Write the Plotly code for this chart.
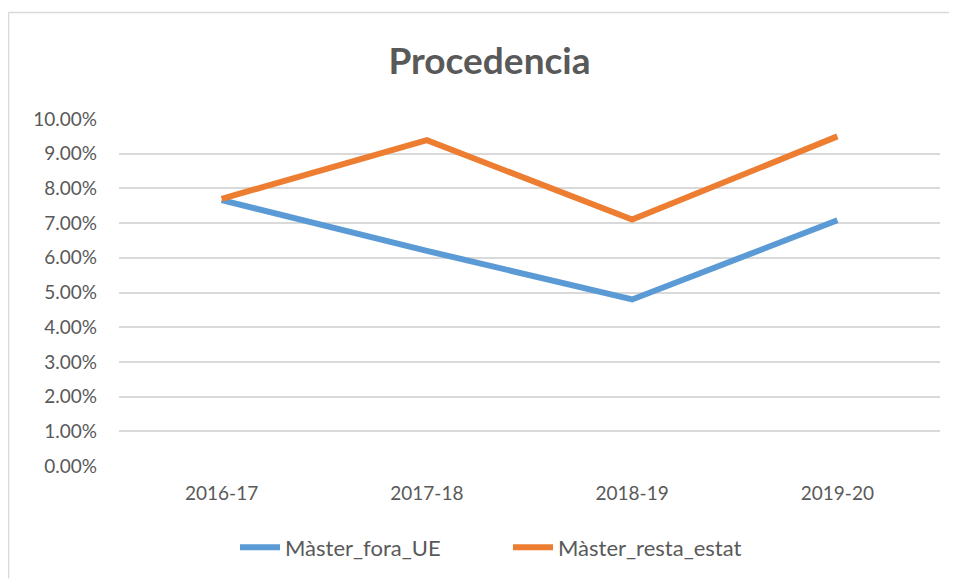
import plotly.graph_objects as go

categories = ["2016-17", "2017-18", "2018-19", "2019-20"]
fora_ue = [0.0766, 0.0620, 0.0480, 0.0708]
resta_estat = [0.0770, 0.0939, 0.0710, 0.0950]
y_ticks = [i / 100 for i in range(0, 11)]

FONT = "Lato, 'Open Sans', sans-serif"
GRAY = "#595959"

# figure sits at (8, 8) in the page because of the body margin
W, H = 949, 573
L, R, T, B = 111, 17, 111, 113
PW, PH = W - L - R, H - T - B

fig = go.Figure()
fig.add_trace(go.Scatter(x=categories, y=fora_ue, name="Màster_fora_UE", mode="lines",
                         line=dict(color="#5b9bd5", width=6)))
fig.add_trace(go.Scatter(x=categories, y=resta_estat, name="Màster_resta_estat", mode="lines",
                         line=dict(color="#ed7d31", width=6)))

fig.update_layout(
    width=W, height=H,
    paper_bgcolor="white", plot_bgcolor="white",
    margin=dict(l=L, r=R, t=T, b=B),
    title=dict(text="<b>Procedencia</b>", x=481.5 / W, xanchor="center", y=1 - 53 / H, yanchor="middle",
               font=dict(family=FONT, size=37, color=GRAY)),
    font=dict(family=FONT, size=19, color=GRAY),
    xaxis=dict(type="category", range=[-0.5, 3.5], showgrid=False, showline=False, zeroline=False,
               ticks="", ticklabelstandoff=14, tickfont=dict(size=19, color=GRAY)),
    yaxis=dict(range=[0, 0.10], tickvals=y_ticks, tickformat=".2%", showgrid=True,
               gridcolor="#d9d9d9", gridwidth=1.5, zeroline=False, showline=False,
               ticks="", ticklabelstandoff=21, tickfont=dict(size=19, color=GRAY)),
    legend=dict(orientation="h", x=(500 - L) / PW, xanchor="center", y=-0.235, yanchor="middle",
                font=dict(size=22, color=GRAY), itemwidth=40, entrywidth=218,
                bgcolor="rgba(0,0,0,0)"),
    showlegend=True,
    shapes=[
        dict(type="line", xref="paper", yref="paper",
             x0=-(L - 0.5) / PW, x1=1 + R / PW, y0=1 + (T - 4) / PH, y1=1 + (T - 4) / PH,
             line=dict(color="#d9d9d9", width=1.5)),
        dict(type="line", xref="paper", yref="paper",
             x0=-(L - 0.5) / PW, x1=-(L - 0.5) / PW, y0=-B / PH, y1=1 + (T - 4) / PH,
             line=dict(color="#d9d9d9", width=1.5)),
    ],
)

fig.write_html("out.html", config={"displayModeBar": False})
